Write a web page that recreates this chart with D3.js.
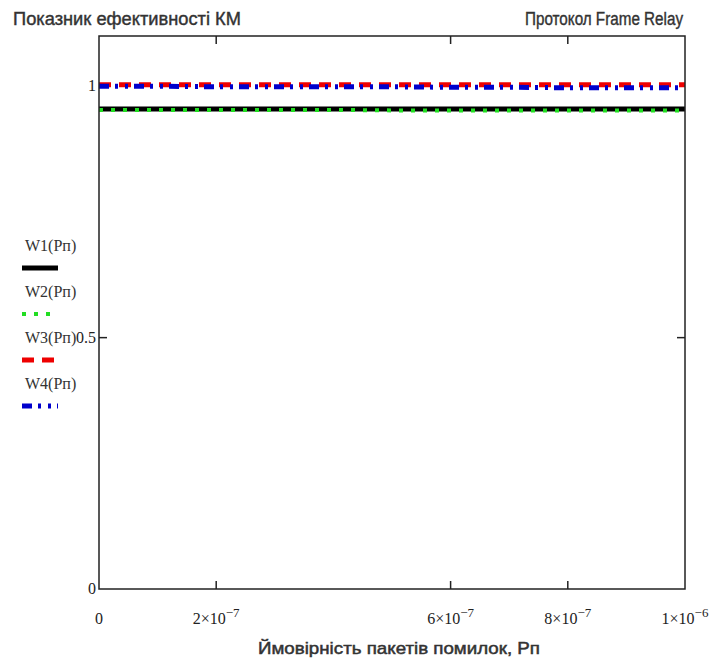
<!doctype html>
<html lang="uk">
<head>
<meta charset="utf-8">
<title>Показник ефективності КМ</title>
<script src="https://cdn.jsdelivr.net/npm/d3@7"></script>
<style>
  body { margin: 0; background: #fff; }
  .ttl { font: 18px "Liberation Sans", Arial, sans-serif; fill: #333; stroke: #333; stroke-width: 0.4px; }
  .xttl { font: 17px "Liberation Sans", Arial, sans-serif; fill: #333; stroke: #333; stroke-width: 0.5px; }
  .tk { font: 16px "Liberation Serif", "Times New Roman", serif; fill: #222; }
  .leg { font: 16px "Liberation Serif", "Times New Roman", serif; fill: #333; }
</style>
</head>
<body>
<svg width="713" height="662"></svg>
<script>
// x values: error probability Pп
var pn = [0, 1e-7, 2e-7, 3e-7, 4e-7, 5e-7, 6e-7, 7e-7, 8e-7, 9e-7, 1e-6];
// efficiency values
var w1 = [0.955, 0.955, 0.955, 0.955, 0.955, 0.955, 0.955, 0.955, 0.955, 0.955, 0.955];
var w2 = [0.953, 0.953, 0.953, 0.953, 0.953, 0.952, 0.952, 0.952, 0.952, 0.952, 0.952];
var w3 = [1.003, 1.003, 1.003, 1.003, 1.003, 1.003, 1.003, 1.003, 1.003, 1.003, 1.003];
var w4 = [1.0, 1.0, 0.999, 0.999, 0.999, 0.999, 0.998, 0.998, 0.997, 0.997, 0.997];

var xTicks = [2e-7, 6e-7, 8e-7];
var xLabels = [
  {v: 0, m: "0", e: ""},
  {v: 2e-7, m: "2\u00d710", e: "\u22127"},
  {v: 6e-7, m: "6\u00d710", e: "\u22127"},
  {v: 8e-7, m: "8\u00d710", e: "\u22127"},
  {v: 1e-6, m: "1\u00d710", e: "\u22126"}
];
var yLabels = [0, 0.5, 1];
var yTicks = [0.5];

var seriesNames = ["W1(Pп)", "W2(Pп)", "W3(Pп)", "W4(Pп)"];
var seriesData = [w1, w2, w3, w4];
var seriesColor = ["#000000", "#22dd22", "#ee0000", "#0000cc"];
var seriesDash = [null, "4,8", "12,8", "10,6,3,7,3,6"];
var seriesWidth = [5, 4, 5, 5];

var svg = d3.select("svg"),
  pLeft = 99, pRight = 685, pTop = 36, pBottom = 589;

var x = d3.scaleLinear().domain([0, 1e-6]).range([pLeft, pRight]);
var y = d3.scaleLinear().domain([0, 1.1]).range([pBottom, pTop]);

// titles
svg.append("text").attr("class", "ttl").attr("x", 13).attr("y", 25)
  .attr("textLength", 228).attr("lengthAdjust", "spacingAndGlyphs").text("Показник ефективності КМ");
svg.append("text").attr("class", "ttl").attr("x", 525).attr("y", 25)
  .attr("textLength", 158).attr("lengthAdjust", "spacingAndGlyphs").text("Протокол Frame Relay");
svg.append("text").attr("class", "xttl").attr("x", 258).attr("y", 654)
  .attr("textLength", 282).attr("lengthAdjust", "spacingAndGlyphs").text("Ймовірність пакетів помилок, Рп");

// series (drawn before frame)
var line = d3.line().x(function (d, i) { return x(pn[i]); }).y(function (d) { return y(d); });
[0, 1, 2, 3].forEach(function (k) {
  svg.append("path")
    .datum(seriesData[k])
    .attr("d", line)
    .attr("fill", "none")
    .attr("stroke", seriesColor[k])
    .attr("stroke-width", seriesWidth[k])
    .attr("stroke-dasharray", seriesDash[k]);
});

// frame
svg.append("rect").attr("x", pLeft).attr("y", pTop).attr("width", pRight - pLeft).attr("height", pBottom - pTop)
  .attr("fill", "none").attr("stroke", "#222").attr("stroke-width", 1.5);

// ticks inside frame
xTicks.forEach(function (t) {
  svg.append("line").attr("x1", x(t)).attr("x2", x(t)).attr("y1", pBottom).attr("y2", pBottom - 8).attr("stroke", "#222").attr("stroke-width", 1.5);
  svg.append("line").attr("x1", x(t)).attr("x2", x(t)).attr("y1", pTop).attr("y2", pTop + 8).attr("stroke", "#222").attr("stroke-width", 1.5);
});
yTicks.forEach(function (t) {
  svg.append("line").attr("x1", pLeft).attr("x2", pLeft + 8).attr("y1", y(t)).attr("y2", y(t)).attr("stroke", "#222").attr("stroke-width", 1.5);
  svg.append("line").attr("x1", pRight).attr("x2", pRight - 8).attr("y1", y(t)).attr("y2", y(t)).attr("stroke", "#222").attr("stroke-width", 1.5);
});

// x labels
xLabels.forEach(function (d) {
  var t = svg.append("text").attr("class", "tk").attr("x", x(d.v)).attr("y", 624).attr("text-anchor", "middle");
  t.append("tspan").text(d.m);
  if (d.e) t.append("tspan").attr("dy", -7).attr("font-size", 13).text(d.e);
});

// y labels
yLabels.forEach(function (v) {
  svg.append("text").attr("class", "tk").attr("x", pLeft - 3).attr("y", y(v) + 5).attr("text-anchor", "end").text(v);
});

// legend
seriesNames.forEach(function (n, k) {
  var ty = 251 + k * 46;
  svg.append("text").attr("class", "leg").attr("x", 25).attr("y", ty).text(n);
  svg.append("line").attr("x1", 22).attr("x2", 58).attr("y1", ty + 17).attr("y2", ty + 17)
    .attr("stroke", seriesColor[k]).attr("stroke-width", seriesWidth[k]).attr("stroke-dasharray", seriesDash[k]);
});
</script>
</body>
</html>
